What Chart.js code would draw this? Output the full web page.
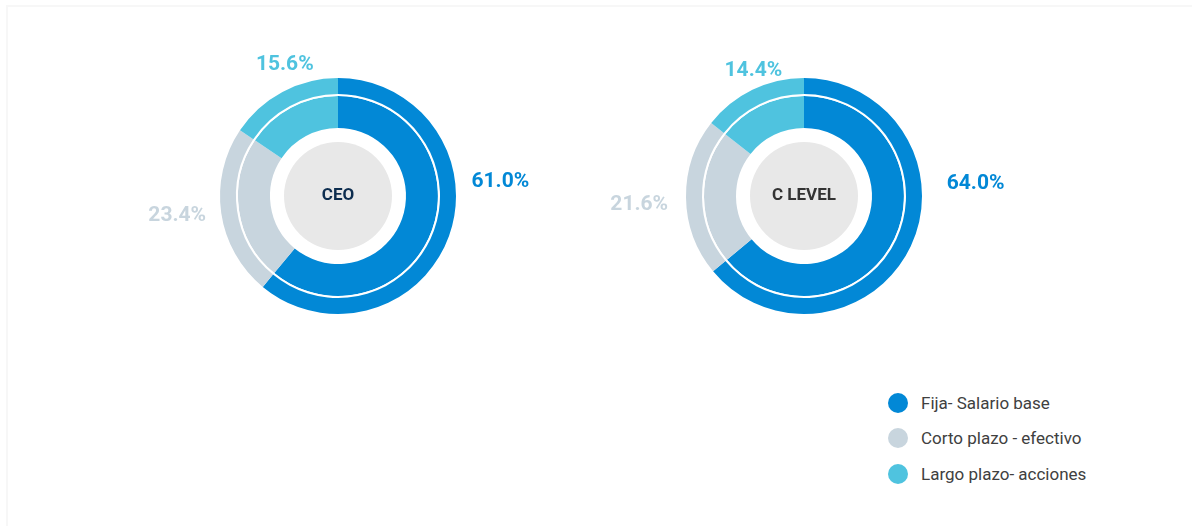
<!DOCTYPE html>
<html>
<head>
<meta charset="utf-8">
<script src="https://cdn.jsdelivr.net/npm/chart.js@4/dist/chart.umd.min.js"></script>
<style>
  body { margin: 0; background: #fff; width: 1192px; height: 526px; overflow: hidden; font-family: Roboto, sans-serif; }
  .card { position: absolute; left: 6px; top: 5px; width: 1186px; height: 521px; background: #fff; border-top: 2px solid #f7f7f7; border-left: 2px solid #f7f7f7; box-sizing: border-box; }
  .donut { position: absolute; width: 440px; height: 300px; top: 46px; }
  #ceoWrap { left: 118px; }
  #clevelWrap { left: 584px; }
  #legend { position: absolute; left: 888px; top: 385px; }
  .leg-item { display: flex; align-items: center; height: 35.5px; font-size: 17px; color: #404040; font-weight: 400; }
  .leg-dot { width: 20px; height: 20px; border-radius: 50%; margin-right: 13px; }
</style>
</head>
<body>
<div class="card"></div>
<div class="donut" id="ceoWrap"><canvas id="ceoChart"></canvas></div>
<div class="donut" id="clevelWrap"><canvas id="clevelChart"></canvas></div>
<div id="legend"></div>

<script>
const categories = ['Fija- Salario base', 'Corto plazo - efectivo', 'Largo plazo- acciones'];
const colors = ['#0288d6', '#c8d5de', '#4fc3df'];
const ceoValues = [61.0, 23.4, 15.6];
const clevelValues = [64.0, 21.6, 14.4];
const chartTitles = ['CEO', 'C LEVEL'];

// label placement: angle (deg from 12 o'clock, clockwise) and distance from center
const ceoLabelPos = [[85, 163], [263, 162], [338, 142]];
const clevelLabelPos = [[86, 172], [267, 165], [338, 135]];

const centerPlugin = {
    id: 'centerDeco',
    beforeDatasetsDraw(chart, args, opts) {
        const arc = chart.getDatasetMeta(0).data[0];
        const ctx = chart.ctx;
        ctx.save();
        ctx.beginPath();
        ctx.arc(arc.x, arc.y, 54, 0, Math.PI * 2);
        ctx.fillStyle = '#e8e8e8';
        ctx.fill();
        ctx.restore();
    },
    afterDatasetsDraw(chart, args, opts) {
        const meta = chart.getDatasetMeta(0);
        const arc = meta.data[0];
        const ctx = chart.ctx;
        ctx.save();
        ctx.textAlign = 'center';
        ctx.textBaseline = 'middle';
        ctx.font = 'bold 17px Roboto';
        ctx.fillStyle = opts.titleColor;
        ctx.fillText(opts.title, arc.x, arc.y);

        ctx.font = 'bold 21px Roboto';
        const vals = chart.data.datasets[0].data;
        vals.forEach((v, i) => {
            const [deg, dist] = opts.labelPos[i];
            const a = deg * Math.PI / 180;
            ctx.fillStyle = colors[i];
            ctx.fillText(v.toFixed(1) + '%', arc.x + Math.sin(a) * dist, arc.y - Math.cos(a) * dist);
        });
        ctx.restore();
    }
};

function makeDonut(id, values, title, titleColor, labelPos) {
    return new Chart(document.getElementById(id), {
        type: 'doughnut',
        data: {
            labels: categories,
            datasets: [
                { data: values, backgroundColor: colors, borderWidth: 0, weight: 16 },
                { data: values, backgroundColor: '#ffffff', borderWidth: 0, weight: 2 },
                { data: values, backgroundColor: colors, borderWidth: 0, weight: 32 }
            ]
        },
        options: {
            responsive: true,
            maintainAspectRatio: false,
            animation: false,
            cutout: 68,
            layout: { padding: { top: 32, bottom: 32, left: 0, right: 0 } },
            plugins: {
                legend: { display: false },
                tooltip: { enabled: false },
                centerDeco: { title, titleColor, labelPos }
            }
        },
        plugins: [centerPlugin]
    });
}

makeDonut('ceoChart', ceoValues, chartTitles[0], '#0d2d4f', ceoLabelPos);
makeDonut('clevelChart', clevelValues, chartTitles[1], '#333333', clevelLabelPos);

const legend = document.getElementById('legend');
categories.forEach((c, i) => {
    const row = document.createElement('div');
    row.className = 'leg-item';
    row.innerHTML = `<span class="leg-dot" style="background:${colors[i]}"></span>${c}`;
    legend.appendChild(row);
});
</script>
</body>
</html>
